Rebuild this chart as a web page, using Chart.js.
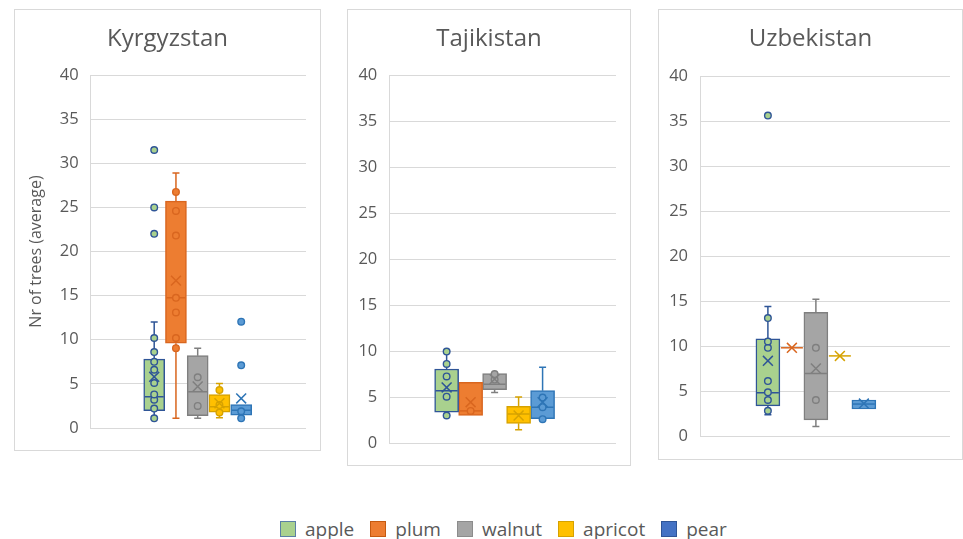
<!DOCTYPE html>
<html>
<head>
<meta charset="utf-8">
<script src="https://cdn.jsdelivr.net/npm/chart.js@4.4.0/dist/chart.umd.min.js"></script>
<style>
  body { margin: 0; width: 963px; height: 539px; background: #fff; position: relative; overflow: hidden; font-family: "Open Sans", sans-serif; }
  .panel { position: absolute; border: 1px solid #d9d9d9; background: #fff; }
  .panel canvas { display: block; }
  #legend { position: absolute; left: 280px; top: 516px; display: flex; align-items: center; font-size: 19px; color: #595959; }
  .item { display: flex; align-items: center; margin-right: 16px; }
  .sw { width: 16px; height: 16px; box-sizing: border-box; border: 1px solid; margin-right: 9px; }
</style>
</head>
<body>
<div class="panel" style="left:14px;top:9px;"><canvas id="kg" width="305" height="440"></canvas></div>
<div class="panel" style="left:347px;top:9px;"><canvas id="tj" width="282" height="455"></canvas></div>
<div class="panel" style="left:658px;top:9px;"><canvas id="uz" width="303" height="449"></canvas></div>
<div id="legend"></div>
<script>
const fruits = ['apple', 'plum', 'walnut', 'apricot', 'pear'];
const fillColors = ['#A9D18E', '#ED7D31', '#A5A5A5', '#FFC000', '#5B9BD5'];
const lineColors = ['#2F5597', '#D9661F', '#7F7F7F', '#D6A200', '#2E75B6'];
const legendFill = ['#A9D18E', '#ED7D31', '#A5A5A5', '#FFC000', '#4472C4'];
const legendLine = ['#5B7FA6', '#C55A11', '#8C8C8C', '#D6A200', '#2F5597'];

// Kyrgyzstan
const kgMin = [1.0, 1.1, 1.1, 1.15, 1.1];
const kgQ1 = [1.95, 9.6, 1.4, 1.8, 1.45];
const kgMedian = [3.55, 14.75, 4.1, 2.4, 2.0];
const kgQ3 = [7.8, 25.7, 8.2, 3.8, 2.65];
const kgMax = [12.0, 28.9, 9.05, 5.05, 2.65];
const kgMean = [5.8, 16.7, 4.7, 2.8, 3.35];
const kgPoints = [
  [1.1, 2.2, 3.2, 3.8, 5.1, 6.6, 7.5, 8.6, 10.2, 22.0, 25.0, 31.5],
  [9.05, 10.2, 13.1, 14.75, 21.8, 24.6, 26.75],
  [2.5, 5.75],
  [1.75, 2.6, 4.3],
  [1.1, 1.9, 7.1, 12.05]
];

// Tajikistan
const tjMin = [3.0, 3.0, 5.5, 1.45, 2.6];
const tjQ1 = [3.35, 3.0, 5.8, 2.15, 2.65];
const tjMedian = [5.7, 3.5, 6.4, 3.15, 3.9];
const tjQ3 = [8.05, 6.6, 7.55, 4.0, 5.7];
const tjMax = [9.95, 6.6, 7.6, 5.0, 8.25];
const tjMean = [6.05, 4.45, 6.95, 3.0, 4.45];
const tjPoints = [
  [3.0, 5.05, 7.25, 8.6, 9.95],
  [3.5],
  [6.9, 7.5],
  [],
  [2.6, 3.9, 4.95]
];

// Uzbekistan
const uzMin = [2.35, 9.8, 1.05, 8.9, 3.0];
const uzQ1 = [3.35, 9.8, 1.8, 8.9, 3.0];
const uzMedian = [4.8, 9.8, 6.95, 8.9, 3.55];
const uzQ3 = [10.8, 9.8, 13.75, 8.9, 4.0];
const uzMax = [14.4, 9.8, 15.2, 8.9, 4.0];
const uzMean = [8.35, 9.8, 7.5, 8.9, 3.6];
const uzPoints = [
  [2.8, 4.0, 4.85, 6.1, 9.8, 10.5, 13.1, 35.6],
  [],
  [4.0, 9.8],
  [],
  []
];

const yTickStep = 5;
const yMin = 0;
const yMax = 40;

// whiskers, caps and median line, painted right after each box
const boxDecor = {
  id: 'boxDecor',
  afterDatasetDraw(chart, args) {
    const ds = chart.data.datasets[args.index];
    if (!ds.stats) return;
    const el = args.meta.data[0];
    const y = chart.scales.y;
    const ctx = chart.ctx;
    const x = el.x, half = el.width / 2, cap = 3.5;
    const yq1 = y.getPixelForValue(ds.stats.q1);
    const yq3 = y.getPixelForValue(ds.stats.q3);
    const ylo = y.getPixelForValue(ds.stats.low);
    const yhi = y.getPixelForValue(ds.stats.high);
    const ymed = y.getPixelForValue(ds.stats.median);
    ctx.save();
    ctx.strokeStyle = ds.borderColor;
    ctx.lineWidth = 1.5;
    ctx.beginPath();
    if (ylo - yq1 > 0.5) {
      ctx.moveTo(x, yq1); ctx.lineTo(x, ylo);
      ctx.moveTo(x - cap, ylo); ctx.lineTo(x + cap, ylo);
    }
    if (yq3 - yhi > 0.5) {
      ctx.moveTo(x, yq3); ctx.lineTo(x, yhi);
      ctx.moveTo(x - cap, yhi); ctx.lineTo(x + cap, yhi);
    }
    ctx.moveTo(x - half + 1, ymed); ctx.lineTo(x + half - 1, ymed);
    ctx.stroke();
    ctx.restore();
  }
};

function buildDatasets(mins, q1s, medians, q3s, maxs, means, points, thickness) {
  const sets = [];
  fruits.forEach((name, i) => {
    sets.push({
      type: 'bar',
      label: name,
      data: [{ x: i + 1, y: [q1s[i], q3s[i]] }],
      backgroundColor: fillColors[i],
      borderColor: lineColors[i],
      borderWidth: 1.5,
      borderSkipped: false,
      barThickness: thickness,
      grouped: false,
      order: 3,
      stats: { low: mins[i], q1: q1s[i], median: medians[i], q3: q3s[i], high: maxs[i] }
    });
    sets.push({
      type: 'line',
      label: name + ' points',
      data: points[i].map(v => ({ x: i + 1, y: v })),
      showLine: false,
      pointStyle: 'circle',
      pointRadius: 3.3,
      pointBorderWidth: 1.4,
      pointBackgroundColor: fillColors[i],
      pointBorderColor: lineColors[i],
      order: 1
    });
    sets.push({
      type: 'line',
      label: name + ' mean',
      data: [{ x: i + 1, y: means[i] }],
      showLine: false,
      pointStyle: 'crossRot',
      pointRadius: 7,
      pointBorderWidth: 1.5,
      pointBorderColor: lineColors[i],
      order: 0
    });
  });
  return sets;
}

function makeChart(id, title, datasets, cfg) {
  new Chart(document.getElementById(id), {
    type: 'bar',
    data: { datasets },
    plugins: [boxDecor],
    options: {
      responsive: false,
      animation: false,
      devicePixelRatio: 1,
      events: [],
      layout: { padding: 0 },
      plugins: {
        legend: { display: false },
        tooltip: { enabled: false },
        title: {
          display: true,
          text: title,
          color: '#595959',
          font: { family: '"Open Sans", sans-serif', size: 24, weight: 'normal' },
          padding: { top: 15, bottom: cfg.titleBottom }
        }
      },
      scales: {
        x: {
          type: 'linear',
          min: cfg.xMin,
          max: cfg.xMax,
          offset: false,
          ticks: { display: false },
          grid: { display: false, drawTicks: false },
          border: { display: false },
          afterFit(s) { s.height = cfg.padBottom; }
        },
        y: {
          min: yMin,
          max: yMax,
          ticks: {
            stepSize: yTickStep,
            padding: 12,
            color: '#595959',
            font: { family: '"Open Sans", sans-serif', size: 16.5 }
          },
          grid: { color: '#d9d9d9', lineWidth: 1, drawTicks: false },
          border: { display: true, color: '#d9d9d9' },
          title: {
            display: !!cfg.yTitle,
            text: cfg.yTitle || '',
            color: '#595959',
            font: { family: '"Open Sans", sans-serif', size: 16, lineHeight: 1 },
            padding: { top: 13.7, bottom: 0 }
          },
          afterFit(s) { s.width = cfg.axisWidth; }
        },
        // blank right-hand gutter, so the title stays centred on the panel
        gutter: {
          position: 'right',
          ticks: { display: false },
          grid: { display: false, drawTicks: false },
          border: { display: false },
          afterFit(s) { s.width = cfg.padRight; }
        }
      }
    }
  });
}

makeChart('kg', 'Kyrgyzstan',
  buildDatasets(kgMin, kgQ1, kgMedian, kgQ3, kgMax, kgMean, kgPoints, 21),
  { xMin: -1.92, xMax: 7.98, axisWidth: 75.7, padRight: 14, padBottom: 22, titleBottom: 21.2, yTitle: 'Nr of trees (average)' });
makeChart('tj', 'Tajikistan',
  buildDatasets(tjMin, tjQ1, tjMedian, tjQ3, tjMax, tjMean, tjPoints, 24),
  { xMin: -1.39, xMax: 8.06, axisWidth: 41.3, padRight: 14, padBottom: 20.7, titleBottom: 21.2 });
makeChart('uz', 'Uzbekistan',
  buildDatasets(uzMin, uzQ1, uzMedian, uzQ3, uzMax, uzMean, uzPoints, 24),
  { xMin: -1.83, xMax: 8.59, axisWidth: 41, padRight: 12, padBottom: 23, titleBottom: 22.2 });

// shared legend under the three panels
const legend = document.getElementById('legend');
fruits.forEach((name, i) => {
  const item = document.createElement('div');
  item.className = 'item';
  const sw = document.createElement('span');
  sw.className = 'sw';
  sw.style.background = legendFill[i];
  sw.style.borderColor = legendLine[i];
  const label = document.createElement('span');
  label.textContent = name;
  item.appendChild(sw);
  item.appendChild(label);
  legend.appendChild(item);
});
</script>
</body>
</html>
